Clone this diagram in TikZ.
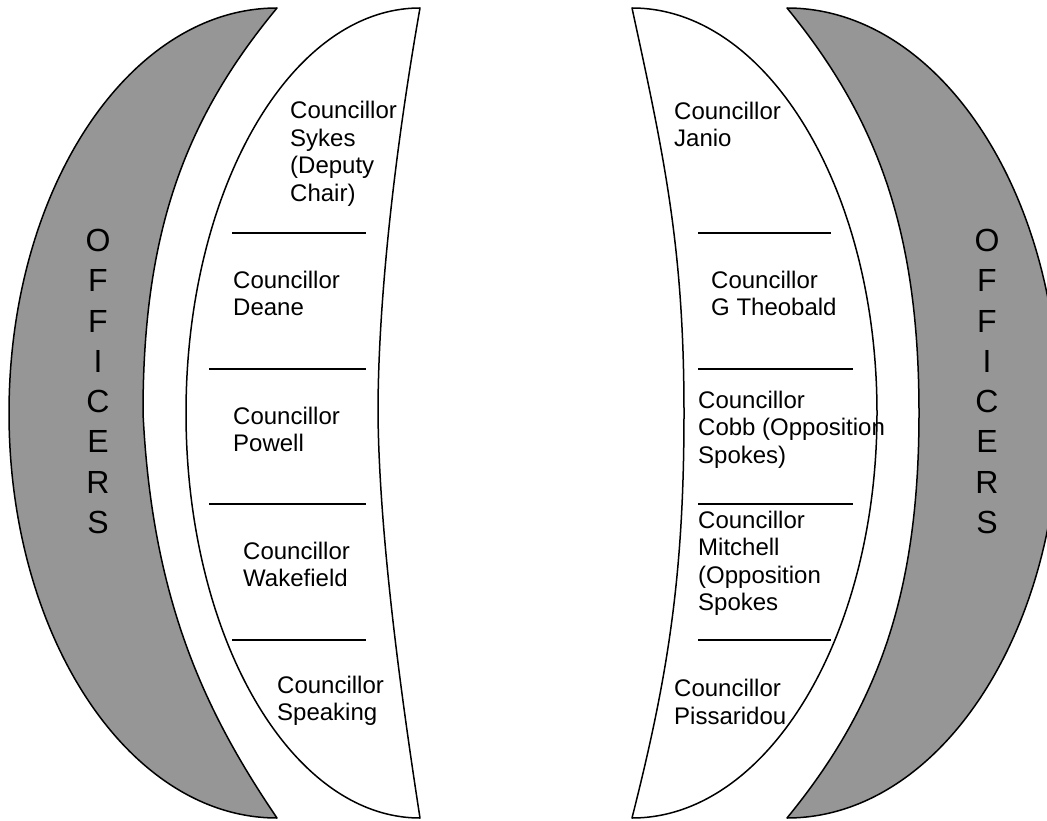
\documentclass[tikz,border=0pt]{standalone}
\usepackage{fontspec}
\setmainfont{Liberation Sans}
\definecolor{offgray}{RGB}{150,150,150}
\newcommand\blk[1]{\vtop{\baselineskip=27.5pt\lineskiplimit=-100pt\halign{##\hfil\cr#1\crcr}}}
\newcommand\vletters[1]{\vtop{\baselineskip=40.3pt\lineskiplimit=-100pt\halign{\hfil##\hfil\cr#1\crcr}}}
\begin{document}
\begin{tikzpicture}[x=1pt,y=-1pt,
  crescent/.style={draw=black,line width=1.5pt,line join=round},
  grayband/.style={crescent,fill=offgray},
  whiteband/.style={crescent,fill=white},
  divider/.style={draw=black,line width=1.7pt},
  seat/.style={anchor=base west,inner sep=0pt,font=\fontsize{24}{27.5}\selectfont},
  officers/.style={anchor=base,inner sep=0pt,font=\fontsize{32}{40}\selectfont}]
\useasboundingbox (0,0) rectangle (1047,821);
\clip (0,0) rectangle (1047,821);
% left grey crescent
\path[grayband] (277,8) .. controls (129,8) and (9,189.3) .. (9,413)
  .. controls (9,636.7) and (129,818) .. (277,818)
  .. controls (205,712) and (152,600) .. (143,413)
  .. controls (143,230) and (186,118) .. (277,8) -- cycle;
% left white crescent
\path[whiteband] (420,8) .. controls (290.8,8) and (186,189.3) .. (186,413)
  .. controls (186,636.7) and (290.8,818) .. (420,818)
  .. controls (398,676) and (379,526) .. (378,413)
  .. controls (378,300) and (395,150) .. (420,8) -- cycle;
% right white crescent
\path[whiteband] (632,8) .. controls (767.3,8) and (877,189.3) .. (877,413)
  .. controls (877,636.7) and (767.3,818) .. (632,818)
  .. controls (668,676) and (684,576) .. (684,413)
  .. controls (684,250) and (665,160) .. (632,8) -- cycle;
% right grey crescent
\path[grayband] (787,8) .. controls (937,8) and (1059,189.3) .. (1059,413)
  .. controls (1059,636.7) and (937,818) .. (787,818)
  .. controls (877,708) and (919,596) .. (919,413)
  .. controls (919,230) and (877,118) .. (787,8) -- cycle;
% dividers
\draw[divider] (232,233) -- (366,233);
\draw[divider] (209,369) -- (366,369);
\draw[divider] (209,504) -- (366,504);
\draw[divider] (232,640) -- (366,640);
\draw[divider] (698,233) -- (831,233);
\draw[divider] (698,369) -- (853,369);
\draw[divider] (698,504) -- (853,504);
\draw[divider] (698,640) -- (831,640);
% officers
\node[officers] (offL) at (98,251.5) {\vletters{O\cr F\cr F\cr I\cr C\cr E\cr R\cr S}};
\node[officers] (offR) at (987,251.5) {\vletters{O\cr F\cr F\cr I\cr C\cr E\cr R\cr S}};
% left seats
\node[seat] (sykes) at (290,119) {\blk{Councillor\cr Sykes\cr (Deputy\cr Chair)}};
\node[seat] (deane) at (233,288) {\blk{Councillor\cr Deane}};
\node[seat] (powell) at (233,424) {\blk{Councillor\cr Powell}};
\node[seat] (wakefield) at (243,559) {\blk{Councillor\cr Wakefield}};
\node[seat] (speaking) at (277,693) {\blk{Councillor\cr Speaking}};
% right seats
\node[seat] (janio) at (674,119.5) {\blk{Councillor\cr Janio}};
\node[seat] (theobald) at (711,288) {\blk{Councillor\cr G Theobald}};
\node[seat] (cobb) at (698,408) {\blk{Councillor\cr Cobb (Opposition\cr Spokes)}};
\node[seat] (mitchell) at (698,528) {\blk{Councillor\cr Mitchell\cr (Opposition\cr Spokes}};
\node[seat] (pissaridou) at (674,696.5) {\blk{Councillor\cr Pissaridou}};
\end{tikzpicture}
\end{document}
